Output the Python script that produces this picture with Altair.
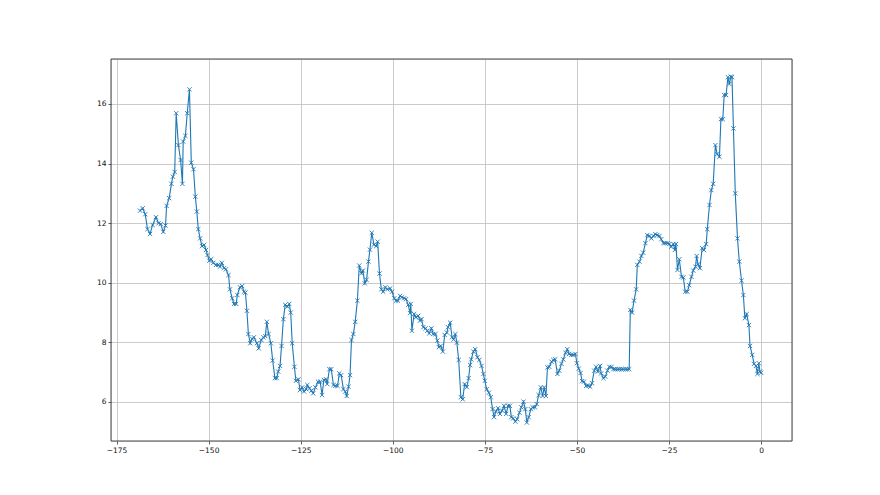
import altair as alt
import pandas as pd

x_vals = [
    -168.6, -167.9, -167.2, -166.6, -165.9, -165.2, -164.3, -163.6, -163.0, -162.3,
    -161.7, -161.4, -160.7, -160.1, -159.7, -159.2, -158.8, -158.2, -157.6, -157.1,
    -156.9, -156.3, -155.8, -155.2, -154.7, -154.1, -153.6, -153.2, -152.8, -152.3,
    -151.8, -151.2, -150.7, -150.3, -149.8, -149.3, -148.7, -148.0, -147.4, -146.9,
    -146.4, -145.8, -145.3, -144.6, -144.2, -143.6, -143.1, -142.5, -142.2, -141.5,
    -140.9, -140.4, -140.0, -139.6, -139.2, -138.7, -138.2, -137.7, -136.9, -136.4,
    -135.7, -135.1, -134.6, -134.2, -133.7, -133.1, -132.6, -132.0, -131.5, -131.1,
    -130.6, -130.2, -129.7, -129.2, -128.6, -128.1, -127.7, -127.3, -126.7, -126.3,
    -125.6, -125.2, -124.6, -124.1, -123.5, -123.2, -122.6, -122.1, -121.6, -121.0,
    -120.3, -119.7, -119.2, -118.7, -118.1, -117.8, -117.2, -116.7, -116.1, -115.6,
    -115.0, -114.5, -114.0, -113.4, -112.9, -112.5, -112.0, -111.6, -111.2, -110.7,
    -110.2, -109.6, -109.1, -108.5, -108.1, -107.6, -107.1, -106.6, -106.2, -105.7,
    -105.1, -104.5, -104.1, -103.6, -103.1, -102.6, -102.0, -101.5, -100.7, -100.2,
    -99.6, -99.1, -98.6, -98.0, -97.5, -96.9, -96.4, -95.8, -95.3, -95.1,
    -94.8, -94.2, -93.7, -93.1, -92.6, -92.2, -91.7, -91.1, -90.6, -90.1,
    -89.5, -89.0, -88.4, -87.9, -87.5, -87.0, -86.4, -85.9, -85.3, -85.0,
    -84.4, -83.9, -83.5, -83.0, -82.6, -82.1, -81.5, -81.0, -80.5, -79.9,
    -79.4, -79.0, -78.7, -78.1, -77.6, -77.0, -76.5, -75.9, -75.4, -75.0,
    -74.5, -73.9, -73.4, -72.9, -72.5, -72.0, -71.4, -70.9, -70.3, -69.8,
    -69.2, -68.7, -68.2, -67.8, -67.3, -66.7, -66.2, -65.6, -65.1, -64.5,
    -64.0, -63.6, -63.1, -62.5, -62.0, -61.4, -60.9, -60.4, -59.8, -59.3,
    -58.9, -58.4, -58.0, -57.5, -56.9, -56.4, -55.9, -55.3, -54.8, -54.2,
    -53.7, -53.1, -52.6, -52.1, -51.5, -51.0, -50.4, -50.0, -49.5, -49.0,
    -48.6, -48.1, -47.5, -47.0, -46.4, -45.9, -45.3, -44.8, -44.3, -43.7,
    -43.4, -42.8, -42.3, -41.7, -41.2, -40.6, -40.1, -39.6, -39.0, -38.5,
    -37.9, -37.4, -36.8, -36.3, -35.8, -35.5, -35.0, -34.5, -33.9, -33.6,
    -33.0, -32.5, -32.0, -31.4, -30.9, -30.3, -29.8, -29.2, -28.7, -28.2,
    -27.6, -27.1, -26.5, -26.0, -25.4, -24.9, -24.4, -23.8, -23.4, -23.1,
    -22.7, -22.2, -21.6, -21.1, -20.6, -20.0, -19.5, -18.9, -18.4, -17.8,
    -17.5, -17.1, -16.6, -16.0, -15.5, -14.9, -14.6, -14.0, -13.5, -13.0,
    -12.4, -11.9, -11.3, -10.9, -10.4, -10.0, -9.5, -9.0, -8.6, -8.2,
    -7.9, -7.5, -7.0, -6.4, -5.9, -5.3, -4.8, -4.4, -3.9, -3.3,
    -3.0, -2.4, -1.9, -1.4, -1.0, -0.6, -0.3, 0.0,
]

y_vals = [
    12.42, 12.50, 12.30, 11.80, 11.64, 11.94, 12.20, 12.00, 11.97, 11.71,
    11.92, 12.58, 12.84, 13.32, 13.56, 13.72, 15.69, 14.62, 14.12, 13.32,
    14.74, 14.93, 15.69, 16.49, 14.03, 13.81, 12.89, 12.39, 11.80, 11.49,
    11.23, 11.27, 11.10, 10.93, 10.74, 10.79, 10.67, 10.60, 10.60, 10.54,
    10.67, 10.49, 10.45, 10.26, 9.78, 9.48, 9.29, 9.29, 9.59, 9.85,
    9.89, 9.70, 9.67, 9.06, 8.28, 7.97, 8.12, 8.17, 7.97, 7.80,
    8.08, 8.17, 8.21, 8.69, 8.28, 7.97, 7.39, 6.80, 6.80, 7.02,
    7.21, 7.88, 8.78, 9.26, 9.20, 9.29, 9.00, 7.97, 7.18, 6.71,
    6.76, 6.40, 6.49, 6.35, 6.43, 6.57, 6.46, 6.38, 6.29, 6.49,
    6.68, 6.68, 6.23, 6.74, 6.76, 6.60, 7.10, 7.10, 6.57, 6.54,
    6.54, 6.96, 6.90, 6.43, 6.35, 6.20, 6.51, 6.90, 8.08, 8.28,
    8.69, 9.40, 10.58, 10.32, 10.41, 9.98, 10.10, 10.71, 11.11, 11.68,
    11.28, 11.23, 11.38, 10.31, 9.78, 9.70, 9.85, 9.78, 9.81, 9.70,
    9.48, 9.40, 9.40, 9.56, 9.51, 9.48, 9.45, 9.26, 8.98, 9.29,
    8.39, 8.95, 8.84, 8.89, 8.73, 8.78, 8.51, 8.47, 8.39, 8.30,
    8.47, 8.28, 8.28, 8.06, 7.84, 7.88, 7.69, 8.25, 8.33, 8.51,
    8.66, 8.17, 8.10, 8.28, 7.99, 7.41, 6.16, 6.09, 6.60, 6.50,
    6.80, 7.24, 7.43, 7.69, 7.77, 7.50, 7.41, 7.21, 6.94, 6.71,
    6.43, 6.31, 6.16, 5.76, 5.49, 5.68, 5.79, 5.60, 5.71, 5.87,
    5.60, 5.87, 5.87, 5.49, 5.45, 5.34, 5.42, 5.64, 5.82, 6.01,
    5.76, 5.31, 5.49, 5.76, 5.82, 5.82, 5.93, 6.23, 6.49, 6.20,
    6.49, 6.20, 7.16, 7.18, 7.35, 7.41, 7.43, 6.94, 7.05, 7.28,
    7.43, 7.65, 7.77, 7.61, 7.58, 7.58, 7.61, 7.30, 7.12, 6.97,
    6.70, 6.68, 6.54, 6.55, 6.51, 6.63, 7.05, 7.18, 7.02, 7.21,
    6.96, 6.80, 6.85, 7.05, 7.18, 7.18, 7.10, 7.10, 7.10, 7.10,
    7.10, 7.10, 7.10, 7.10, 7.10, 9.09, 9.00, 9.40, 9.78, 10.60,
    10.71, 10.90, 11.01, 11.33, 11.60, 11.57, 11.49, 11.57, 11.63, 11.60,
    11.57, 11.46, 11.33, 11.33, 11.33, 11.30, 11.21, 11.30, 11.10, 11.30,
    10.43, 10.79, 10.20, 10.18, 9.70, 9.70, 9.92, 10.20, 10.41, 10.54,
    10.90, 10.62, 10.49, 11.16, 11.10, 11.30, 11.80, 12.61, 13.11, 13.32,
    14.62, 14.32, 14.23, 15.49, 15.49, 16.30, 16.30, 16.90, 16.67, 16.92,
    16.90, 15.18, 13.00, 11.49, 10.71, 10.07, 9.59, 8.81, 8.95, 8.58,
    7.88, 7.58, 7.28, 7.21, 6.94, 7.30, 7.02, 6.98,
]

x_ticks = [-175, -150, -125, -100, -75, -50, -25, 0]
y_ticks = [6, 8, 10, 12, 14, 16]
x_domain = [-176.5, 8.4]
y_domain = [4.69, 17.51]

df = pd.DataFrame({"x": x_vals, "y": y_vals})

W, H = 681, 382

axis_common = dict(
    title=None,
    grid=True,
    gridColor="#c4c4c4",
    gridWidth=0.9,
    domain=False,
    ticks=True,
    tickColor="#333333",
    tickSize=3,
    tickWidth=0.8,
    labelFont="DejaVu Sans",
    labelFontSize=7.5,
    labelColor="#111111",
    labelPadding=2,
    labelExpr="replace(datum.label, '-', '\u2212')",
)

xenc = alt.X(
    "x:Q",
    scale=alt.Scale(domain=x_domain, nice=False, zero=False),
    axis=alt.Axis(values=x_ticks, format="d", **axis_common),
)
yenc = alt.Y(
    "y:Q",
    scale=alt.Scale(domain=y_domain, nice=False, zero=False),
    axis=alt.Axis(values=y_ticks, format="d", **axis_common),
)

base = alt.Chart(df).encode(x=xenc, y=yenc, order="x:Q")

line = base.mark_line(color="#1f77b4", strokeWidth=1.1, clip=True)
pts = base.mark_point(
    shape="M-1,-1L1,1M-1,1L1,-1",
    size=18,
    filled=False,
    color="#1f77b4",
    strokeWidth=0.9,
    opacity=1,
    clip=True,
)

frame = alt.Chart(pd.DataFrame({"a": [0]})).mark_rect(
    fill=None, stroke="#444444", strokeWidth=1
).encode(
    x=alt.value(0), x2=alt.value(W), y=alt.value(0), y2=alt.value(H)
)

chart = (
    alt.layer(line, pts, frame)
    .properties(
        width=W,
        height=H,
        autosize=alt.AutoSizeParams(type="none"),
        padding={"left": 103, "top": 51, "right": 80, "bottom": 46},
    )
    .configure_view(stroke=None)
    .configure(background="white")
)

chart.save("out.html", embed_options={"renderer": "svg", "actions": False})
